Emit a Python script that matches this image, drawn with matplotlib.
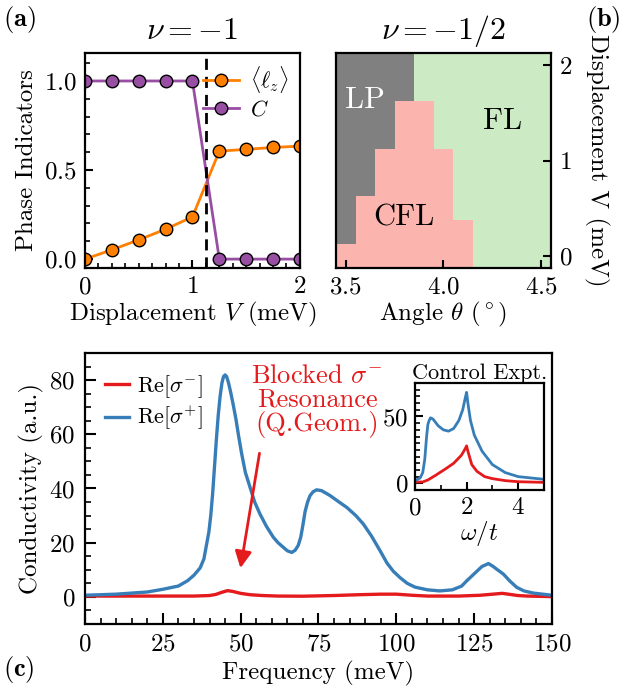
import numpy as np
import matplotlib
matplotlib.use('Agg')
import matplotlib.pyplot as plt
from matplotlib.colors import ListedColormap
from matplotlib.ticker import MultipleLocator

plt.rcParams['font.family'] = 'serif'
plt.rcParams['font.serif'] = ['cmr10']
plt.rcParams['mathtext.fontset'] = 'cm'
plt.rcParams['axes.formatter.use_mathtext'] = True
plt.rcParams['axes.linewidth'] = 1.6
plt.rcParams['xtick.direction'] = 'in'
plt.rcParams['ytick.direction'] = 'in'

#%% data

# (a) nu = -1
V_a = [0, 0.25, 0.5, 0.75, 1.0, 1.25, 1.5, 1.75, 2.0]
lz = [0.0, 0.052, 0.108, 0.168, 0.237, 0.606, 0.616, 0.627, 0.634]
chern = [1, 1, 1, 1, 1, 0, 0, 0, 0]
V_crit = 1.13

# (b) nu = -1/2 phase map, 0 = LP, 1 = CFL, 2 = FL
angles = [3.5, 3.6, 3.7, 3.8, 3.9, 4.0, 4.1, 4.2, 4.3, 4.4, 4.5]
V_b = [0, 0.25, 0.5, 0.75, 1.0, 1.25, 1.5, 1.75, 2.0]
phase = [[1, 1, 1, 1, 1, 1, 1, 2, 2, 2, 2],
         [0, 1, 1, 1, 1, 1, 1, 2, 2, 2, 2],
         [0, 1, 1, 1, 1, 1, 2, 2, 2, 2, 2],
         [0, 0, 1, 1, 1, 1, 2, 2, 2, 2, 2],
         [0, 0, 1, 1, 1, 1, 2, 2, 2, 2, 2],
         [0, 0, 0, 1, 1, 2, 2, 2, 2, 2, 2],
         [0, 0, 0, 1, 1, 2, 2, 2, 2, 2, 2],
         [0, 0, 0, 0, 2, 2, 2, 2, 2, 2, 2],
         [0, 0, 0, 0, 2, 2, 2, 2, 2, 2, 2]]

# (c) conductivity
freq_p = [0, 10, 20, 25, 30, 33, 35, 37, 38.2, 39.1, 39.8, 40.4, 41, 41.6,
          42.2, 42.8, 43.4, 44, 44.5, 45, 45.5, 46.1, 46.8, 47.6, 48.5, 49.4,
          50.3, 51.5, 53, 54.5, 56.2, 58.3, 60.5, 62, 63.7, 65, 66.4, 67.5,
          68.5, 69.3, 70, 70.7, 71.5, 72.3, 73.3, 74.4, 76, 78.7, 81, 84.1,
          87, 89.4, 92, 94.8, 97, 99, 101.2, 103.5, 106, 110, 114, 118, 121,
          122.6, 125, 127.5, 129.6, 131, 132.5, 134.4, 136.5, 138.7, 141, 144,
          150]
sig_p = [0.6, 1.0, 1.8, 2.8, 4.0, 6.0, 8.0, 10.7, 14, 19.6, 24, 30, 38, 48,
         58, 67, 74, 79, 81.3, 81.9, 81.3, 79, 75.5, 71, 65.5, 59,
         53, 46, 40.5, 35, 30.6, 26, 22, 20, 18.3, 17, 16.4, 17.2,
         19, 22, 26.5, 31.5, 35, 37.4, 38.8, 39.5, 39.2, 37.4, 35.5, 33,
         30, 26.9, 22.5, 17, 12.5, 9.5, 7.1, 5, 3.6, 2.6, 2.2, 2.6, 4,
         5.9, 8.5, 11.2, 12.3, 11.3, 10, 8.4, 5.8, 3.5, 2.2, 1.4,
         0.6]
freq_m = [0, 20, 35, 40, 42, 44, 45.8, 47.5, 50, 53, 57, 62, 70, 80, 88, 95,
          100, 105, 110, 120, 127, 131, 134, 136, 139, 142, 150]
sig_m = [0.3, 0.3, 0.3, 0.5, 0.9, 1.7, 2.3, 2.0, 1.3, 0.8, 0.5, 0.3, 0.25, 0.5,
         0.8, 1.0, 1.0, 0.6, 0.3, 0.3, 0.6, 1.0, 1.3, 1.0, 0.5, 0.3, 0.1]

# inset: control experiment
w_p = [0, 0.2, 0.3, 0.38, 0.45, 0.5, 0.55, 0.6, 0.7, 0.9, 1.1, 1.3, 1.5, 1.7,
       1.85, 1.95, 2.0, 2.05, 2.15, 2.3, 2.6, 3.0, 3.5, 4.0, 5.0]
ctrl_p = [2, 4, 8, 18, 35, 44, 47, 49, 48, 43, 40, 39, 41, 47,
          55, 64, 68, 60, 47, 36, 24, 14, 8, 5, 3]
w_m = [0, 0.3, 0.5, 0.8, 1.2, 1.5, 1.8, 1.95, 2.0, 2.05, 2.2, 2.4, 2.7, 3.0,
       3.5, 4.0, 5.0]
ctrl_m = [1, 1, 2.5, 6, 11, 15, 21, 26, 28, 24, 14, 9, 5, 3.5, 2, 1.2, 0.7]

orange = '#ff7f00'
purple = '#984ea3'
red = '#e41a1c'
blue = '#377eb8'

fs_tick = 18
fs_lab = 18

fig = plt.figure(figsize=(6.23, 6.92), dpi=100)

#%% (a)
axA = fig.add_axes([0.1364, 0.6127, 0.345, 0.3107])
axA.plot(V_a, lz, '-o', color=orange, lw=2, ms=9, mec='k', mew=1.0,
         label=r'$\langle \ell_z \rangle$')
axA.plot(V_a, chern, '-o', color=purple, lw=2, ms=9, mec='k', mew=1.0,
         label=r'$C$')
axA.axvline(V_crit, color='k', ls='--', lw=2, dashes=(4, 2.5))
axA.set_xlim(0, 2)
axA.set_ylim(-0.05, 1.157)
axA.xaxis.set_major_locator(MultipleLocator(1))
axA.xaxis.set_minor_locator(MultipleLocator(0.125))
axA.yaxis.set_major_locator(MultipleLocator(0.5))
axA.yaxis.set_minor_locator(MultipleLocator(0.1))
axA.tick_params(which='major', length=6, width=1.5, labelsize=fs_tick, pad=6)
axA.tick_params(which='minor', length=3.5, width=1.2)
axA.set_xlabel(r'Displacement $V$ (meV)', fontsize=fs_lab, labelpad=1)
axA.set_ylabel('Phase Indicators', fontsize=fs_lab, labelpad=4)
axA.set_title(r'$\nu = -1$', fontsize=23, pad=10)
axA.legend(loc='upper right', frameon=False, fontsize=16, handlelength=1.6,
           borderaxespad=0.1, labelspacing=0.2, handletextpad=0.5)

#%% (b)
axB = fig.add_axes([0.5393, 0.6127, 0.345, 0.3107])
cmap = ListedColormap(['#808080', '#fbb4ae', '#ccebc5'])
axB.pcolormesh(angles, V_b, np.array(phase), cmap=cmap, vmin=-0.5, vmax=2.5,
               shading='nearest')
axB.set_xlim(3.45, 4.55)
axB.set_ylim(-0.125, 2.125)
axB.xaxis.set_major_locator(MultipleLocator(0.5))
axB.yaxis.set_major_locator(MultipleLocator(1))
axB.yaxis.tick_right()
axB.yaxis.set_label_position('right')
axB.tick_params(which='major', length=6, width=1.5, labelsize=fs_tick, pad=6)
axB.set_xlabel(r'Angle $\theta$ $(^\circ)$', fontsize=fs_lab, labelpad=1)
axB.set_ylabel('Displacement V (meV)', fontsize=fs_lab, rotation=270,
               labelpad=26)
axB.set_title(r'$\nu = -1/2$', fontsize=23, pad=10)
axB.text(3.60, 1.63, 'LP', color='white', fontsize=22, ha='center', va='center')
axB.text(4.30, 1.41, 'FL', color='k', fontsize=22, ha='center', va='center')
axB.text(3.80, 0.40, 'CFL', color='k', fontsize=22, ha='center', va='center')

#%% (c)
axC = fig.add_axes([0.1364, 0.0983, 0.7496, 0.3916])
axC.plot(freq_m, sig_m, color=red, lw=2.4, label=r'Re$[\sigma^{-}]$')
axC.plot(freq_p, sig_p, color=blue, lw=2.4, label=r'Re$[\sigma^{+}]$')
axC.set_xlim(0, 150)
axC.set_ylim(-10, 90)
axC.xaxis.set_major_locator(MultipleLocator(25))
axC.xaxis.set_minor_locator(MultipleLocator(5))
axC.yaxis.set_major_locator(MultipleLocator(20))
axC.yaxis.set_minor_locator(MultipleLocator(5))
axC.tick_params(which='major', length=8, width=1.5, labelsize=fs_tick, pad=7)
axC.tick_params(which='minor', length=4, width=1.2)
axC.set_xlabel('Frequency (meV)', fontsize=fs_lab, labelpad=4)
axC.set_ylabel('Conductivity (a.u.)', fontsize=fs_lab, labelpad=4)
axC.legend(loc='upper left', frameon=False, fontsize=16, handlelength=1.1,
           labelspacing=0.2, handletextpad=0.35)
axC.annotate('', xy=(49.8, 9.6), xytext=(56.2, 54),
             arrowprops=dict(arrowstyle='-|>', color=red, lw=2,
                             mutation_scale=25))
axC.text(74.5, 86, 'Blocked $\\sigma^{-}$\nResonance\n(Q.Geom.)', color=red,
         fontsize=19, ha='center', va='top', linespacing=1.0)

#%% inset
axI = fig.add_axes([0.6661, 0.2919, 0.2071, 0.1546])
axI.plot(w_m, ctrl_m, color=red, lw=2)
axI.plot(w_p, ctrl_p, color=blue, lw=2)
axI.set_xlim(0, 5)
axI.set_ylim(-5, 75)
axI.xaxis.set_major_locator(MultipleLocator(2))
axI.xaxis.set_minor_locator(MultipleLocator(1))
axI.yaxis.set_major_locator(MultipleLocator(50))
axI.yaxis.set_minor_locator(MultipleLocator(5))
axI.tick_params(which='major', length=6, width=1.5, labelsize=fs_tick, pad=5)
axI.tick_params(which='minor', length=3.5, width=1.2)
axI.set_xlabel(r'$\omega/t$', fontsize=fs_lab, labelpad=0)
axI.set_title('Control Expt.', fontsize=16, pad=2)

#%% panel labels
fig.text(0.005, 0.972, r'$\mathbf{(a)}$', fontsize=19, va='center')
fig.text(0.94, 0.972, r'$\mathbf{(b)}$', fontsize=19, va='center')
fig.text(0.005, 0.032, r'$\mathbf{(c)}$', fontsize=19, va='center')

fig.savefig('out.png', dpi=100)
